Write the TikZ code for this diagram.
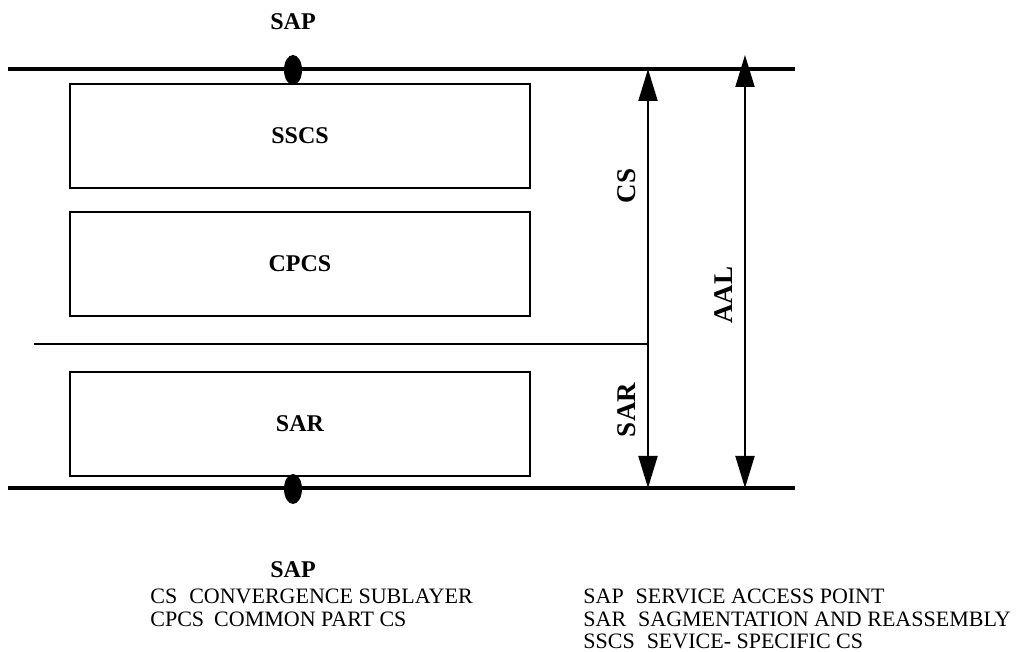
\documentclass[tikz,border=0pt]{standalone}
\usepackage{fontspec}
\setmainfont{Liberation Serif}
\usetikzlibrary{arrows.meta, shapes.geometric}

\tikzset{
  rule/.style={line width=1.7pt},
  layerbox/.style={draw, line width=1.4pt, minimum width=230pt, minimum height=52pt,
    font=\fontsize{12}{14}\selectfont\bfseries},
  sapdot/.style={ellipse, fill=black, inner sep=0pt, minimum width=9pt, minimum height=15pt},
  lbl/.style={font=\fontsize{12}{14}\selectfont\bfseries},
  sidelbl/.style={rotate=90, font=\fontsize{13.5}{15}\selectfont\bfseries},
  legend/.style={anchor=west, inner sep=0pt, font=\fontsize{11}{13}\selectfont},
  tip/.tip={Triangle[length=16pt, width=9.5pt]},
  dim/.style={line width=1pt, -tip}
}

\begin{document}
\begin{tikzpicture}[x=0.5pt, y=-0.5pt]
  \useasboundingbox (0,0) rectangle (1025,652);
  % reference lines
  \coordinate (TL) at (8,69);
  \coordinate (TR) at (795,69);
  \coordinate (BL) at (8,488);
  \coordinate (BR) at (795,488);
  \coordinate (ML) at (34,344);
  \coordinate (MR) at (648,344);
  \coordinate (CStop) at (648,69);
  \coordinate (SARbot) at (648,488);
  \coordinate (AALtop) at (745,55);
  \coordinate (AALbot) at (745,488);
  \draw[rule] (TL) -- (TR);
  \draw[rule] (BL) -- (BR);
  \draw[line width=1.3pt] (ML) -- (MR);
  % sublayers
  \node[layerbox] (sscs) at (300,136) {SSCS};
  \node[layerbox] (cpcs) at (300,264) {CPCS};
  \node[layerbox] (sar) at (300,424) {SAR};
  % access points
  \node[sapdot] (saptop) at (293,70) {};
  \node[sapdot] (sapbot) at (293,489) {};
  \node[lbl] (saptoptxt) at (293,22) {SAP};
  \node[lbl] (sapbottxt) at (293,570) {SAP};
  % extents
  \draw[dim] (MR) -- (CStop);
  \draw[dim] (MR) -- (SARbot);
  \draw[line width=1pt, tip-tip] (AALbot) -- (AALtop);
  \node[sidelbl] (cslbl) at (627,186) {CS};
  \node[sidelbl] (sarlbl) at (627,410) {SAR};
  \node[sidelbl] (aallbl) at (724,295) {AAL};
  % legend
  \node[legend] (lgcs) at (150,596) {CS\hspace{6pt}CONVERGENCE SUBLAYER};
  \node[legend] (lgcpcs) at (150,619) {CPCS\hspace{5pt}COMMON PART CS};
  \node[legend] (lgsap) at (583,596) {SAP\hspace{6pt}SERVICE ACCESS POINT};
  \node[legend] (lgsar) at (583,619) {SAR\hspace{6pt}SAGMENTATION AND REASSEMBLY};
  \node[legend] (lgsscs) at (583,641) {SSCS\hspace{6pt}SEVICE- SPECIFIC CS};
\end{tikzpicture}
\end{document}
